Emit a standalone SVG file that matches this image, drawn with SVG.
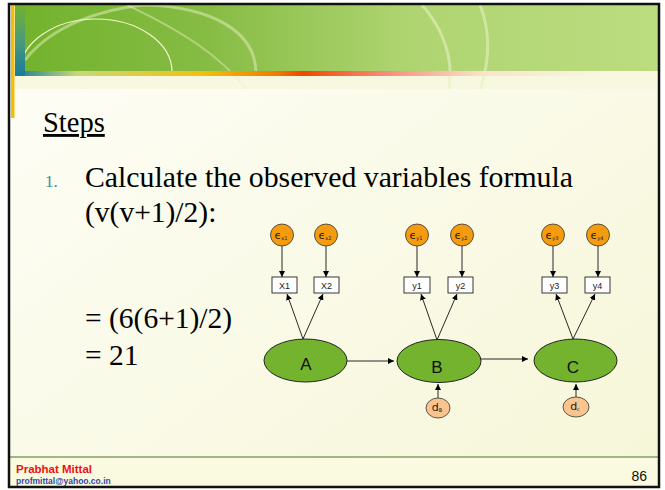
<svg xmlns="http://www.w3.org/2000/svg" width="665" height="490" viewBox="0 0 665 490">
<defs>
<linearGradient id="bg" x1="0" y1="0" x2="1" y2="1">
<stop offset="0" stop-color="#fefef8"/><stop offset="1" stop-color="#f6f6d8"/>
</linearGradient>
<linearGradient id="hdr" x1="0" y1="0" x2="1" y2="0">
<stop offset="0" stop-color="#72b22c"/><stop offset="0.3" stop-color="#86bc44"/><stop offset="0.6" stop-color="#aed470"/><stop offset="1" stop-color="#bcdc80"/>
</linearGradient>
<linearGradient id="bar" x1="15" y1="0" x2="640" y2="0" gradientUnits="userSpaceOnUse">
<stop offset="0" stop-color="#1a7a9a"/>
<stop offset="0.1" stop-color="#c8d878"/>
<stop offset="0.3" stop-color="#f2c010"/>
<stop offset="0.42" stop-color="#f07a00"/>
<stop offset="0.46" stop-color="#f04800"/>
<stop offset="0.6" stop-color="#f89080"/>
<stop offset="0.75" stop-color="#f8e4cc"/>
<stop offset="0.95" stop-color="#f8f8e0"/>
</linearGradient>
<linearGradient id="vbar" x1="0" y1="0" x2="0" y2="1">
<stop offset="0" stop-color="#72b22c"/><stop offset="0.5" stop-color="#4a9a7a"/><stop offset="1" stop-color="#1a7a9a"/>
</linearGradient>
<clipPath id="hclip"><rect x="15" y="5" width="643" height="84"/></clipPath>
<marker id="ah" viewBox="0 0 10 10" refX="10" refY="5" markerWidth="6" markerHeight="6" orient="auto" markerUnits="userSpaceOnUse">
<path d="M0,0 L10,5 L0,10 z" fill="#000"/>
</marker>
<style>
.eps{fill:#f59b0f;stroke:#333;stroke-width:0.8}
.box{fill:#fff;stroke:#222;stroke-width:0.9}
.lat{fill:#74b32e;stroke:#222;stroke-width:1}
.dist{fill:#f9c48e;stroke:#333;stroke-width:0.8}
.con line{stroke:#111;stroke-width:0.9;marker-end:url(#ah)}
.bl{font-family:"Liberation Sans",Arial,sans-serif;font-size:9px;fill:#222;text-anchor:middle}
.el{font-family:"DejaVu Sans","Liberation Sans",sans-serif;font-size:11px;fill:#222;text-anchor:middle}
.sub{font-size:5px}
.ll{font-family:"Liberation Sans",Arial,sans-serif;font-size:17px;fill:#111;text-anchor:middle}
.tm{font-family:"Liberation Serif","Times New Roman",serif;fill:#000}
</style>
</defs>
<!-- background -->
<rect x="9" y="4" width="650" height="483" fill="url(#bg)"/>
<rect x="15" y="76" width="643" height="13" fill="#f8f8e0"/>
<rect x="15" y="5" width="643" height="67" fill="url(#hdr)"/>
<g clip-path="url(#hclip)" fill="none">
<path d="M20,72 A76,53 0 0 1 172,72" stroke="#f4f8d0" stroke-width="1.2"/>
<path d="M25,60 C60,15 130,5 150,5 C210,8 255,30 256,72" stroke="#e8f0c0" stroke-opacity="0.5" stroke-width="3"/>
<path d="M127,5 C180,30 220,55 247,90" stroke="#e8f0c0" stroke-opacity="0.45" stroke-width="2"/>
<path d="M422,5 C440,25 450,50 450,72 L449,90" stroke="#e4f0c0" stroke-opacity="0.6" stroke-width="3"/>
<path d="M480,5 C490,30 490,60 480,90" stroke="#e4f0c0" stroke-opacity="0.6" stroke-width="3"/>
</g>
<rect x="15" y="71" width="643" height="5" fill="url(#bar)"/>
<rect x="15" y="5" width="10" height="71" fill="url(#vbar)"/>
<rect x="11" y="5" width="3.5" height="113" fill="#f2c000"/>
<!-- footer -->
<rect x="10" y="458" width="648" height="28" fill="#fafae0"/>
<line x1="10" y1="457" x2="658" y2="457" stroke="#8a9a6a" stroke-width="1.5"/>
<rect x="9" y="4" width="650" height="483" fill="none" stroke="#111" stroke-width="2.5"/>
<text x="16" y="473" font-family="Liberation Sans,Arial,sans-serif" font-weight="bold" font-size="11.5" fill="#ee1111">Prabhat Mittal</text>
<text x="16" y="484" font-family="Liberation Sans,Arial,sans-serif" font-weight="bold" font-size="8.5" fill="#3344aa">profmittal@yahoo.co.in</text>
<text x="647" y="481" text-anchor="end" font-family="Liberation Sans,Arial,sans-serif" font-size="14" fill="#111">86</text>
<!-- body text -->
<text class="tm" x="43" y="132" font-size="28.5" text-decoration="underline">Steps</text>
<text x="45" y="187" font-family="Liberation Serif,serif" font-size="17" fill="#3a8ea0">1.</text>
<text class="tm" x="85" y="187" font-size="29.5" textLength="488" lengthAdjust="spacingAndGlyphs">Calculate the observed variables formula</text>
<text class="tm" x="85" y="222" font-size="29.5">(v(v+1)/2):</text>
<text class="tm" x="85" y="328" font-size="29.5">= (6(6+1)/2)</text>
<text class="tm" x="85" y="365" font-size="29.5">= 21</text>
<!-- connectors -->
<g id="connectors" class="con">
<line x1="282" y1="246" x2="282" y2="277"/>
<line x1="326" y1="246" x2="326" y2="277"/>
<line x1="417" y1="246" x2="417" y2="277"/>
<line x1="462" y1="246" x2="462" y2="277"/>
<line x1="553" y1="246" x2="553" y2="277"/>
<line x1="598" y1="246" x2="598" y2="277"/>
<line x1="303" y1="339" x2="287" y2="294"/>
<line x1="303" y1="339" x2="323" y2="294"/>
<line x1="437" y1="340" x2="421" y2="294"/>
<line x1="437" y1="340" x2="457" y2="294"/>
<line x1="573" y1="339" x2="556" y2="294"/>
<line x1="573" y1="339" x2="595" y2="294"/>
<line x1="347" y1="361" x2="394" y2="361"/>
<line x1="481" y1="359" x2="528" y2="359"/>
<line x1="438" y1="398" x2="438" y2="384"/>
<line x1="576" y1="397" x2="576" y2="384"/>
</g>
<!-- nodes -->
<g id="ex1"><ellipse class="eps" cx="282" cy="235" rx="11.5" ry="11"/><text class="el" x="281" y="239">ϵ<tspan class="sub" dy="1">x1</tspan></text></g>
<g id="ex2"><ellipse class="eps" cx="326" cy="235" rx="11.5" ry="11"/><text class="el" x="325" y="239">ϵ<tspan class="sub" dy="1">x2</tspan></text></g>
<g id="ey1"><ellipse class="eps" cx="417" cy="235" rx="11.5" ry="11"/><text class="el" x="416" y="239">ϵ<tspan class="sub" dy="1">y1</tspan></text></g>
<g id="ey2"><ellipse class="eps" cx="462" cy="235" rx="11.5" ry="11"/><text class="el" x="461" y="239">ϵ<tspan class="sub" dy="1">y2</tspan></text></g>
<g id="ey3"><ellipse class="eps" cx="553" cy="235" rx="11.5" ry="11"/><text class="el" x="552" y="239">ϵ<tspan class="sub" dy="1">y3</tspan></text></g>
<g id="ey4"><ellipse class="eps" cx="598" cy="235" rx="11.5" ry="11"/><text class="el" x="597" y="239">ϵ<tspan class="sub" dy="1">y4</tspan></text></g>
<g id="X1"><rect class="box" x="272" y="277" width="25" height="16"/><text class="bl" x="284.5" y="288.5">X1</text></g>
<g id="X2"><rect class="box" x="314" y="277" width="25" height="16"/><text class="bl" x="326.5" y="288.5">X2</text></g>
<g id="y1"><rect class="box" x="404" y="277" width="26" height="16"/><text class="bl" x="417" y="288.5">y1</text></g>
<g id="y2"><rect class="box" x="448" y="277" width="25" height="16"/><text class="bl" x="460.5" y="288.5">y2</text></g>
<g id="y3"><rect class="box" x="542" y="277" width="25" height="16"/><text class="bl" x="554.5" y="288.5">y3</text></g>
<g id="y4"><rect class="box" x="585" y="277" width="25" height="16"/><text class="bl" x="597.5" y="288.5">y4</text></g>
<g id="A"><ellipse class="lat" cx="305.5" cy="360.5" rx="41.5" ry="21.5"/><text class="ll" x="306" y="370">A</text></g>
<g id="B"><ellipse class="lat" cx="439" cy="361" rx="42" ry="21.5"/><text class="ll" x="437" y="373">B</text></g>
<g id="C"><ellipse class="lat" cx="575.5" cy="360.5" rx="41.5" ry="21.5"/><text class="ll" x="573" y="373">C</text></g>
<g id="dB"><ellipse class="dist" cx="438" cy="408" rx="12" ry="10"/><text class="el" x="437" y="411" font-size="8">d<tspan class="sub" dy="1">B</tspan></text></g>
<g id="dC"><ellipse class="dist" cx="576" cy="407" rx="13" ry="10"/><text class="el" x="575" y="410" font-size="8">d<tspan class="sub" dy="1">c</tspan></text></g>
</svg>
